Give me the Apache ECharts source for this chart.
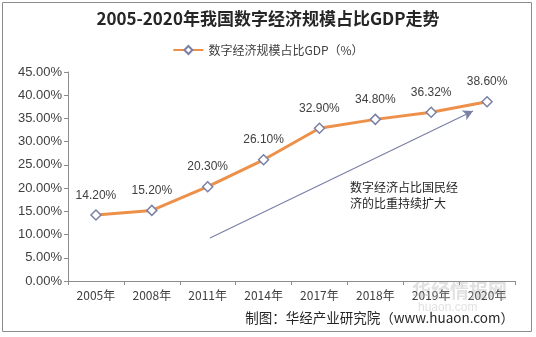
<!DOCTYPE html>
<html>
<head>
<meta charset="utf-8">
<script src="https://cdn.jsdelivr.net/npm/echarts@6/dist/echarts.min.js"></script>
<style>
  html, body { margin: 0; padding: 0; background: #fff; }
  #chart { width: 536px; height: 337px; }
</style>
</head>
<body>
<div id="chart"></div>
<script>
// Share of the digital economy in GDP, 2005-2020
const years = ['2005年', '2008年', '2011年', '2014年', '2017年', '2018年', '2019年', '2020年'];
const shareOfGdp = [14.20, 15.20, 20.30, 26.10, 32.90, 34.80, 36.32, 38.60];
const yTicks = [0, 5, 10, 15, 20, 25, 30, 35, 40, 45];

const seriesName = '数字经济规模占比GDP（%）';
const chart = echarts.init(document.getElementById('chart'), null, { renderer: 'canvas' });

chart.setOption({
  backgroundColor: '#ffffff',
  animation: false,
  title: {
    text: '2005-2020年我国数字经济规模占比GDP走势',
    left: 'center',
    top: 5,
    textStyle: {
      fontFamily: 'Noto Sans CJK SC',
      fontSize: 17,
      fontWeight: 'bold',
      color: '#262626'
    }
  },
  legend: {
    top: 39,
    left: 'center',
    itemWidth: 30,
    itemHeight: 10,
    itemGap: 4,
    textStyle: { fontFamily: 'Noto Sans CJK SC', fontSize: 12, color: '#404040' },
    data: [seriesName]
  },
  grid: { left: 68, right: 21, top: 72, bottom: 56 },
  xAxis: {
    type: 'category',
    data: years,
    boundaryGap: true,
    axisLine: { lineStyle: { color: '#8c8c8c' } },
    axisTick: { show: true, length: 4, lineStyle: { color: '#8c8c8c' } },
    axisLabel: { fontFamily: 'Noto Sans CJK SC', fontSize: 12, color: '#404040', margin: 8 }
  },
  yAxis: {
    type: 'value',
    min: yTicks[0],
    max: yTicks[yTicks.length - 1],
    interval: 5,
    axisLine: { show: true, lineStyle: { color: '#8c8c8c' } },
    axisTick: { show: true, length: 4, lineStyle: { color: '#8c8c8c' } },
    splitLine: { show: false },
    axisLabel: {
      fontFamily: 'Liberation Sans',
      fontSize: 13,
      color: '#404040',
      margin: 6,
      formatter: v => v.toFixed(2) + '%'
    }
  },
  series: [{
    name: seriesName,
    type: 'line',
    data: shareOfGdp,
    symbol: 'diamond',
    symbolSize: 10,
    lineStyle: { color: '#ED914A', width: 3 },
    itemStyle: { color: '#ffffff', borderColor: '#7A80A6', borderWidth: 1.5 },
    label: {
      show: true,
      position: 'top',
      distance: 8,
      fontFamily: 'Liberation Sans',
      fontSize: 12,
      color: '#404040',
      formatter: p => p.value.toFixed(2) + '%'
    },
    markLine: {
      silent: true,
      symbol: ['none', 'arrow'],
      symbolSize: [8, 10],
      label: { show: false },
      lineStyle: { color: '#7A80A6', width: 1.2, type: 'solid' },
      data: [[{ x: 210, y: 238 }, { x: 473, y: 111 }]]
    }
  }],
  graphic: [
    {
      type: 'rect',
      shape: { x: 2.5, y: 2.5, width: 529, height: 329 },
      style: { fill: 'none', stroke: '#8c8c8c', lineWidth: 1 },
      z: 0
    },
    {
      type: 'text',
      left: 350,
      top: 179,
      style: {
        text: '数字经济占比国民经\n济的比重持续扩大',
        font: '12px "Noto Sans CJK SC"',
        fill: '#262626',
        lineHeight: 16
      }
    },
    {
      type: 'text',
      left: 412,
      top: 281,
      style: { text: '华经情报网', font: 'bold 19px "Noto Sans CJK SC"', fill: 'rgba(170,170,170,0.35)' },
      z: 1
    },
    {
      type: 'text',
      left: 418,
      top: 302,
      style: { text: 'huaon.com', font: '12px "Liberation Sans"', fill: 'rgba(170,170,170,0.35)' },
      z: 1
    },
    {
      type: 'text',
      right: 22,
      top: 311,
      style: {
        text: '制图：华经产业研究院（www.huaon.com）',
        font: '13.5px "Noto Sans CJK SC"',
        fill: '#262626'
      }
    }
  ]
});
</script>
</body>
</html>
